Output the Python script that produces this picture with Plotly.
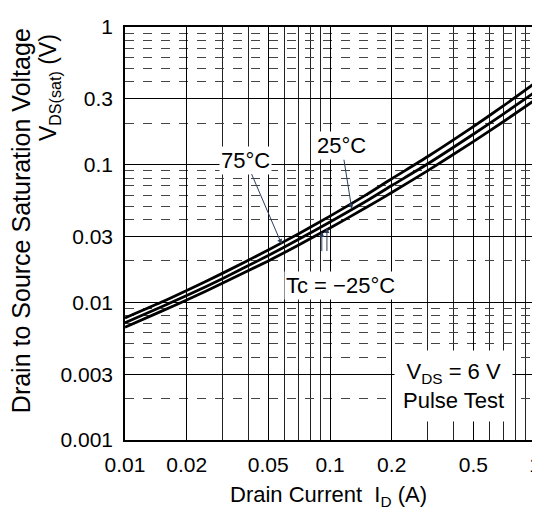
import plotly.graph_objects as go

# Data
drain_current = [0.01, 0.015, 0.02, 0.03, 0.05, 0.07, 0.1, 0.15, 0.2, 0.3, 0.5, 0.7, 1.0]
vds_75 = [0.0077, 0.0100, 0.0122, 0.0163, 0.0240, 0.0314, 0.0423, 0.0603, 0.0790, 0.1146, 0.189, 0.267, 0.391]
vds_25 = [0.0071, 0.00925, 0.0112, 0.0149, 0.0219, 0.0286, 0.0383, 0.0542, 0.0705, 0.1015, 0.1664, 0.233, 0.337]
vds_m25 = [0.0066, 0.0086, 0.0104, 0.0138, 0.0200, 0.0260, 0.0347, 0.0488, 0.0627, 0.0906, 0.147, 0.205, 0.295]

x_ticks = [0.01, 0.02, 0.05, 0.1, 0.2, 0.5, 1]
x_tick_text = ["0.01", "0.02", "0.05", "0.1", "0.2", "0.5", "1"]
y_ticks = [0.001, 0.003, 0.01, 0.03, 0.1, 0.3, 1]
y_tick_text = ["0.001", "0.003", "0.01", "0.03", "0.1", "0.3", "1"]

x_minor = [m * 10 ** e for e in (-2, -1) for m in (3, 4, 6, 7, 8, 9)]
y_minor = [m * 10 ** e for e in (-3, -2, -1) for m in (2, 4, 5, 6, 7, 8, 9)]

FONT = "Liberation Sans, Arial, sans-serif"

fig = go.Figure()
for ys in (vds_75, vds_25, vds_m25):
    fig.add_trace(go.Scatter(x=drain_current, y=ys, mode="lines",
                             line=dict(color="black", width=2.8, shape="spline", smoothing=0.6),
                             showlegend=False, hoverinfo="skip"))

fig.update_layout(
    width=540, height=512,
    margin=dict(l=117, r=7, t=13, b=80),
    paper_bgcolor="white", plot_bgcolor="white",
    font=dict(family=FONT, size=21, color="black"),
)

fig.update_xaxes(
    type="log", range=[-2, 0],
    tickvals=x_ticks, ticktext=x_tick_text, ticks="",
    showgrid=True, gridcolor="black", gridwidth=1.2,
    minor=dict(tickvals=x_minor, showgrid=True, gridcolor="#222", gridwidth=0.9, ticks=""),
    showline=True, linecolor="black", linewidth=1.6, mirror=True,
    tickfont=dict(size=21), ticklabelstandoff=5, zeroline=False,
)
fig.update_yaxes(
    type="log", range=[-3, 0],
    tickvals=y_ticks, ticktext=y_tick_text, ticks="",
    showgrid=True, gridcolor="black", gridwidth=1.0,
    minor=dict(tickvals=y_minor, showgrid=True, gridcolor="#444", gridwidth=0.8,
               griddash="dash", ticks=""),
    showline=True, linecolor="black", linewidth=1.6, mirror=True,
    tickfont=dict(size=21), ticklabelstandoff=6, zeroline=False,
)

# Axis titles
fig.add_annotation(xref="paper", yref="paper", x=0, y=(432 - 210) / 419, xshift=-104,
                   yanchor="middle", xanchor="center", textangle=-90, showarrow=False,
                   text="Drain to Source Saturation Voltage", font=dict(size=25))
fig.add_annotation(xref="paper", yref="paper", x=0, y=(432 - 75) / 419, xshift=-76,
                   yanchor="middle", xanchor="center", textangle=-90, showarrow=False,
                   text="V<sub>DS(sat)</sub> (V)", font=dict(size=23))
fig.add_annotation(xref="paper", yref="paper", x=(323 - 117) / 416, y=0, yshift=-56,
                   xanchor="center", yanchor="middle",
                   showarrow=False, text="Drain Current  I<sub>D</sub> (A)",
                   font=dict(size=22))

# Curve labels
fig.add_annotation(x=-1.236, y=-1.577, xref="x", yref="y", text="75°C",
                   showarrow=True, arrowhead=2, arrowsize=1, arrowwidth=1,
                   ax=-36, ay=-84, bgcolor="white", font=dict(size=22))
fig.add_annotation(x=-0.894, y=-1.32, xref="x", yref="y", text="25°C",
                   showarrow=True, arrowhead=2, arrowsize=1, arrowwidth=1,
                   ax=-10, ay=-63, bgcolor="white", font=dict(size=22))
fig.add_annotation(x=-1.04, y=-1.49, xref="x", yref="y", text=" ",
                   showarrow=True, arrowhead=2, arrowsize=1, arrowwidth=1,
                   ax=0, ay=32)
fig.add_annotation(x=-1.015, y=-1.46, xref="x", yref="y", text=" ",
                   showarrow=True, arrowhead=2, arrowsize=1, arrowwidth=1,
                   ax=0, ay=36)
fig.add_annotation(xref="paper", yref="paper", x=(336 - 117) / 416, y=(432 - 275) / 419,
                   xanchor="center", yanchor="middle",
                   text="Tc = −25°C", showarrow=False, bgcolor="white",
                   font=dict(size=22))
fig.add_annotation(xref="paper", yref="paper", x=(450 - 117) / 416, y=(432 - 377) / 419,
                   xanchor="center", yanchor="middle",
                   text="V<sub>DS</sub> = 6 V<br>Pulse Test", showarrow=False,
                   bgcolor="white", borderpad=8, font=dict(size=22))

fig.write_html("out.html")
